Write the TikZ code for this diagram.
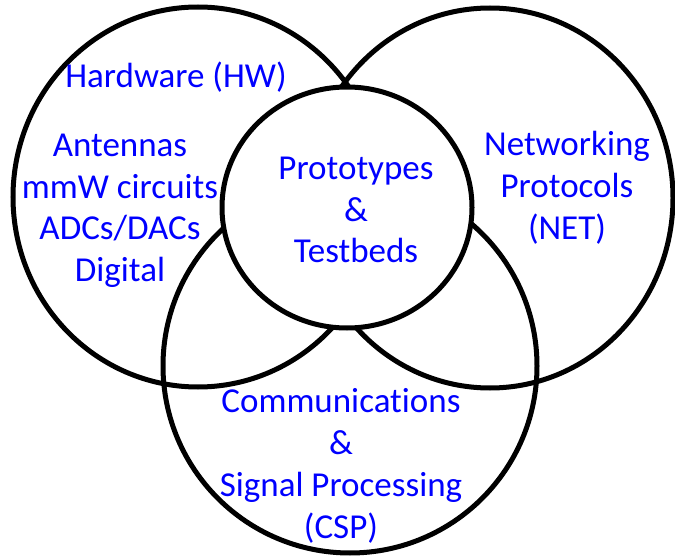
\documentclass[tikz,border=0pt]{standalone}
\usepackage{fontspec}
\setmainfont{Carlito}[Ligatures=NoCommon]
\usepackage{tikz}
\usetikzlibrary{shapes,positioning}
\definecolor{lblblue}{RGB}{0,0,255}
\tikzstyle{setcircle} = [ellipse, draw=black, line width=5pt, inner sep=0pt]
\tikzstyle{setlabel} = [align=center, text=lblblue, font=\fontsize{35}{42}\selectfont, inner sep=0pt]

\begin{document}
\begin{tikzpicture}[x=1pt,y=-1pt]
\useasboundingbox (0,0) rectangle (675,556);
% The three big areas
\node[setcircle, minimum width=370pt, minimum height=380pt] (hw) at (198,197) {};
\node[setcircle, minimum width=366pt, minimum height=380pt] (net) at (490,198) {};
\node[setcircle, minimum width=374pt, minimum height=374pt] (csp) at (350,366) {};
% Overlap in the middle
\node[setcircle, fill=white, minimum width=250pt, minimum height=241pt] (proto) at (347,207.5) {};

% Labels (placed at the baseline of their last line)
\node[setlabel, anchor=base] (hwtitle) at (176,88) {Hardware (HW)};
\node[setlabel, anchor=base] (hwlist) at (120,282) {Antennas\\mmW circuits\\ADCs/DACs\\Digital};
\node[setlabel, anchor=base] (netlabel) at (567,240) {Networking\\Protocols\\(NET)};
\node[setlabel, anchor=base] (protolabel) at (356,263) {Prototypes\\\&\\Testbeds};
\node[setlabel, anchor=base] (csplabel) at (341,538) {Communications\\\&\\Signal Processing\\(CSP)};
\end{tikzpicture}
\end{document}
